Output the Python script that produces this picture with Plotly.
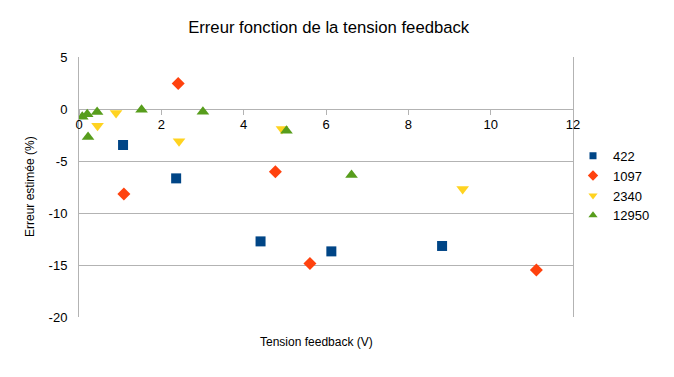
import plotly.graph_objects as go

# Data
x_422 = [1.07, 2.36, 4.41, 6.13, 8.82]
y_422 = [-3.46, -6.67, -12.73, -13.69, -13.17]

x_1097 = [2.41, 1.09, 4.77, 5.61, 11.11]
y_1097 = [2.46, -8.17, -6.03, -14.85, -15.48]

x_2340 = [0.45, 0.90, 2.43, 4.93, 9.32]
y_2340 = [-1.6, -0.38, -3.11, -1.92, -7.69]

x_12950 = [0.08, 0.20, 0.44, 0.22, 1.52, 3.01, 5.04, 6.62]
y_12950 = [-0.75, -0.5, -0.29, -2.69, -0.07, -0.26, -2.09, -6.35]

series_names = ["422", "1097", "2340", "12950"]
colors = ["#004586", "#ff420e", "#ffd320", "#579d1c"]
symbols = ["square", "diamond", "triangle-down", "triangle-up"]
sizes = [10, 10, 11, 11]
legend_sizes = [7, 8, 8, 8]

xs = [x_422, x_1097, x_2340, x_12950]
ys = [y_422, y_1097, y_2340, y_12950]

x_ticks = [0, 2, 4, 6, 8, 10, 12]
y_ticks = [5, 0, -5, -10, -15, -20]

fig = go.Figure()
for name, xv, yv, c, s, sz in zip(series_names, xs, ys, colors, symbols, sizes):
    fig.add_trace(go.Scatter(
        x=xv, y=yv, mode="markers", name=name, showlegend=False,
        marker=dict(color=c, symbol=s, size=sz, line=dict(width=0)),
    ))
# legend-only entries with smaller symbols
for name, c, s, lsz in zip(series_names, colors, symbols, legend_sizes):
    fig.add_trace(go.Scatter(
        x=[None], y=[None], mode="markers", name=name, showlegend=True,
        marker=dict(color=c, symbol=s, size=lsz, line=dict(width=0)),
    ))

font_family = "Liberation Sans, Arial, sans-serif"

# the page body adds an 8px offset; size the figure to fill the window
fig.update_layout(
    width=666, height=369,
    margin=dict(l=71, r=101, t=49, b=60, autoexpand=False),
    paper_bgcolor="white", plot_bgcolor="white",
    font=dict(family=font_family, size=12, color="#000000"),
    title=dict(text="Erreur fonction de la tension feedback", xref="container", x=0.4815,
               xanchor="center", yref="container", y=0.948, yanchor="middle",
               font=dict(size=16.7, family=font_family)),
    showlegend=True,
    legend=dict(x=1.0, xanchor="left", y=0.678, yanchor="top",
                font=dict(size=13), tracegroupgap=0, itemwidth=30,
                bgcolor="rgba(0,0,0,0)"),
    xaxis=dict(range=[0, 12], tickvals=x_ticks, ticktext=[str(v) for v in x_ticks],
               showgrid=False, zeroline=False, showline=False,
               anchor="free", position=0.8, automargin=False,
               ticks="outside", ticklen=5, tickcolor="#b3b3b3",
               ticklabelstandoff=-2,
               tickfont=dict(size=13)),
    yaxis=dict(range=[-20, 5], tickvals=y_ticks, ticktext=[str(v) for v in y_ticks],
               showgrid=True, gridcolor="#b3b3b3", gridwidth=1, automargin=False,
               zeroline=False, showline=True, linecolor="#b3b3b3", mirror=True,
               ticks="outside", ticklen=8, tickcolor="rgba(0,0,0,0)",
               tickfont=dict(size=13)),
    annotations=[
        dict(text="Tension feedback (V)", x=(316 - 79) / 494, y=-(342 - 317) / 260,
             xref="paper", yref="paper", showarrow=False, font=dict(size=12),
             xanchor="center", yanchor="middle"),
        dict(text="Erreur estimée (%)", x=(30 - 79) / 494, y=0.5,
             xref="paper", yref="paper", showarrow=False, font=dict(size=12),
             textangle=-90, xanchor="center", yanchor="middle"),
    ],
)

fig.write_html("out.html")
